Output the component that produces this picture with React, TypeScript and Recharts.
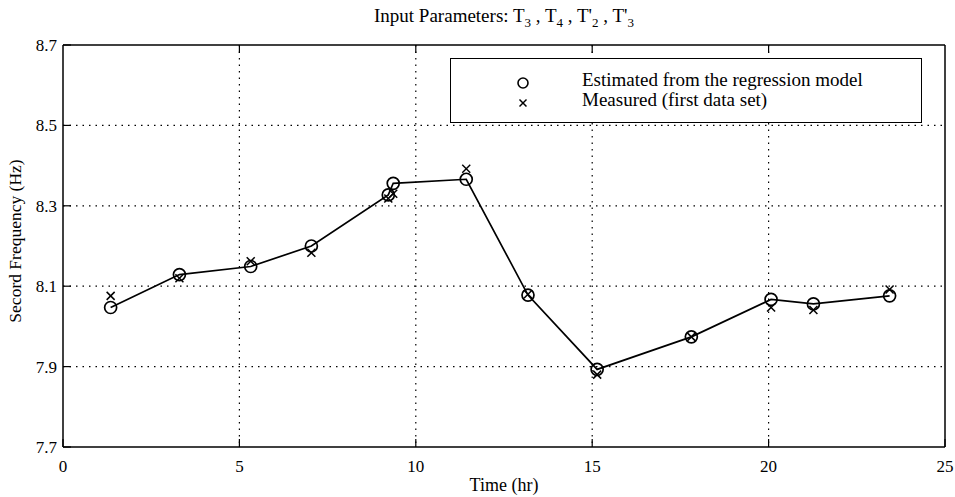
import React from 'react';
import { ComposedChart, Line, XAxis, YAxis, CartesianGrid } from 'recharts';

const times = [1.35, 3.3, 5.32, 7.04, 9.22, 9.36, 11.43, 13.18, 15.14, 17.81, 20.07, 21.27, 23.43];
const estimated = [8.047, 8.129, 8.149, 8.2, 8.327, 8.356, 8.366, 8.078, 7.893, 7.974, 8.067, 8.056, 8.076];
const measured = [8.076, 8.12, 8.162, 8.183, 8.318, 8.33, 8.392, 8.08, 7.88, 7.974, 8.047, 8.041, 8.092];

const xTicks = [0, 5, 10, 15, 20, 25];
const yTicks = [7.7, 7.9, 8.1, 8.3, 8.5, 8.7];
const legendLabels = ['Estimated from the regression model', 'Measured (first data set)'];

const FONT = '"Liberation Serif", "Times New Roman", serif';

const data = times.map((t, i) => ({ t, est: estimated[i], meas: measured[i] }));

const BottomTick = (props: any) => {
    const { x, y, payload } = props;
    return (
        <g>
            <line x1={x} y1={y} x2={x} y2={y - 8} stroke="#000" strokeWidth={1.2} />
            <text x={x} y={y + 25} textAnchor="middle" fontSize={17} fontFamily={FONT} fill="#000">{payload.value}</text>
        </g>
    );
};

const TopTick = (props: any) => {
    const { x, y } = props;
    return <line x1={x} y1={y} x2={x} y2={y + 8} stroke="#000" strokeWidth={1.2} />;
};

const LeftTick = (props: any) => {
    const { x, y, payload } = props;
    return (
        <g>
            <line x1={x} y1={y} x2={x + 8} y2={y} stroke="#000" strokeWidth={1.2} />
            <text x={x - 6} y={y + 6} textAnchor="end" fontSize={17} fontFamily={FONT} fill="#000">{payload.value.toFixed(1)}</text>
        </g>
    );
};

const RightTick = (props: any) => {
    const { x, y } = props;
    return <line x1={x} y1={y} x2={x - 8} y2={y} stroke="#000" strokeWidth={1.2} />;
};

const CircleDot = (props: any) => {
    const { cx, cy } = props;
    if (cx == null || cy == null) return null;
    return <circle cx={cx} cy={cy} r={6} fill="none" stroke="#000" strokeWidth={1.7} />;
};

const CrossDot = (props: any) => {
    const { cx, cy } = props;
    if (cx == null || cy == null) return null;
    const s = 4;
    return (
        <g stroke="#000" strokeWidth={1.5}>
            <line x1={cx - s} y1={cy - s} x2={cx + s} y2={cy + s} />
            <line x1={cx - s} y1={cy + s} x2={cx + s} y2={cy - s} />
        </g>
    );
};

const App: React.FC = () => {
    return (
        <div style={{ position: 'absolute', left: 0, top: 0, width: 955, height: 497, background: '#fff', fontFamily: FONT }}>
            <div style={{ position: 'absolute', left: 63, top: 4, width: 882, textAlign: 'center', fontSize: 19, lineHeight: '24px', color: '#000' }}>
                Input Parameters: T<sub style={{ fontSize: 13 }}>3</sub> , T<sub style={{ fontSize: 13 }}>4</sub> , T'<sub style={{ fontSize: 13 }}>2</sub> , T'<sub style={{ fontSize: 13 }}>3</sub>
            </div>
            <ComposedChart width={955} height={497} data={data} margin={{ top: 0, right: 0, bottom: 0, left: 0 }}>
                <CartesianGrid stroke="#000" strokeDasharray="1.5 5" strokeWidth={1.2} horizontalValues={[7.9, 8.1, 8.3, 8.5]} verticalValues={[5, 10, 15, 20]} />
                <XAxis
                    dataKey="t"
                    type="number"
                    domain={[0, 25]}
                    ticks={xTicks}
                    height={50}
                    tickSize={0}
                    tickMargin={0}
                    tickLine={false}
                    axisLine={{ stroke: '#000', strokeWidth: 1.5 }}
                    tick={<BottomTick />}
                    interval={0}
                    label={{
                        content: () => (
                            <text x={504} y={491} textAnchor="middle" fontSize={18} fontFamily={FONT} fill="#000">Time (hr)</text>
                        )
                    }}
                />
                <XAxis
                    xAxisId="top"
                    orientation="top"
                    dataKey="t"
                    type="number"
                    domain={[0, 25]}
                    ticks={xTicks.slice(1, -1)}
                    height={45}
                    tickSize={0}
                    tickMargin={0}
                    tickLine={false}
                    axisLine={{ stroke: '#000', strokeWidth: 1.5 }}
                    tick={<TopTick />}
                    interval={0}
                />
                <YAxis
                    type="number"
                    domain={[7.7, 8.7]}
                    ticks={yTicks}
                    width={63}
                    tickSize={0}
                    tickMargin={0}
                    tickLine={false}
                    axisLine={{ stroke: '#000', strokeWidth: 1.5 }}
                    tick={<LeftTick />}
                    interval={0}
                    label={{
                        content: () => (
                            <text x={0} y={0} transform="translate(21 241) rotate(-90)" textAnchor="middle" fontSize={17.5} fontFamily={FONT} fill="#000">Secord Frequency (Hz)</text>
                        )
                    }}
                />
                <YAxis
                    yAxisId="right"
                    orientation="right"
                    type="number"
                    domain={[7.7, 8.7]}
                    ticks={yTicks.slice(1, -1)}
                    width={10}
                    tickSize={0}
                    tickMargin={0}
                    tickLine={false}
                    axisLine={{ stroke: '#000', strokeWidth: 1.5 }}
                    tick={<RightTick />}
                    interval={0}
                />
                <Line dataKey="est" type="linear" stroke="#000" strokeWidth={1.7} dot={<CircleDot />} activeDot={false} isAnimationActive={false} />
                <Line dataKey="meas" type="linear" stroke="none" dot={<CrossDot />} activeDot={false} legendType="none" isAnimationActive={false} />
            </ComposedChart>
            <div style={{ position: 'absolute', left: 450, top: 58, width: 472, height: 65, border: '1.5px solid #000', background: '#fff', boxSizing: 'border-box', fontSize: 19, color: '#000' }}>
                <svg width={20} height={50} style={{ position: 'absolute', left: 62, top: 10 }}>
                    <circle cx={10} cy={14} r={5} fill="none" stroke="#000" strokeWidth={1.6} />
                    <line x1={6.5} y1={30.5} x2={13.5} y2={37.5} stroke="#000" strokeWidth={1.5} />
                    <line x1={6.5} y1={37.5} x2={13.5} y2={30.5} stroke="#000" strokeWidth={1.5} />
                </svg>
                <div style={{ position: 'absolute', left: 131, top: 11, lineHeight: '20px', whiteSpace: 'nowrap' }}>
                    <div>{legendLabels[0]}</div>
                    <div>{legendLabels[1]}</div>
                </div>
            </div>
        </div>
    );
};

export default App;
